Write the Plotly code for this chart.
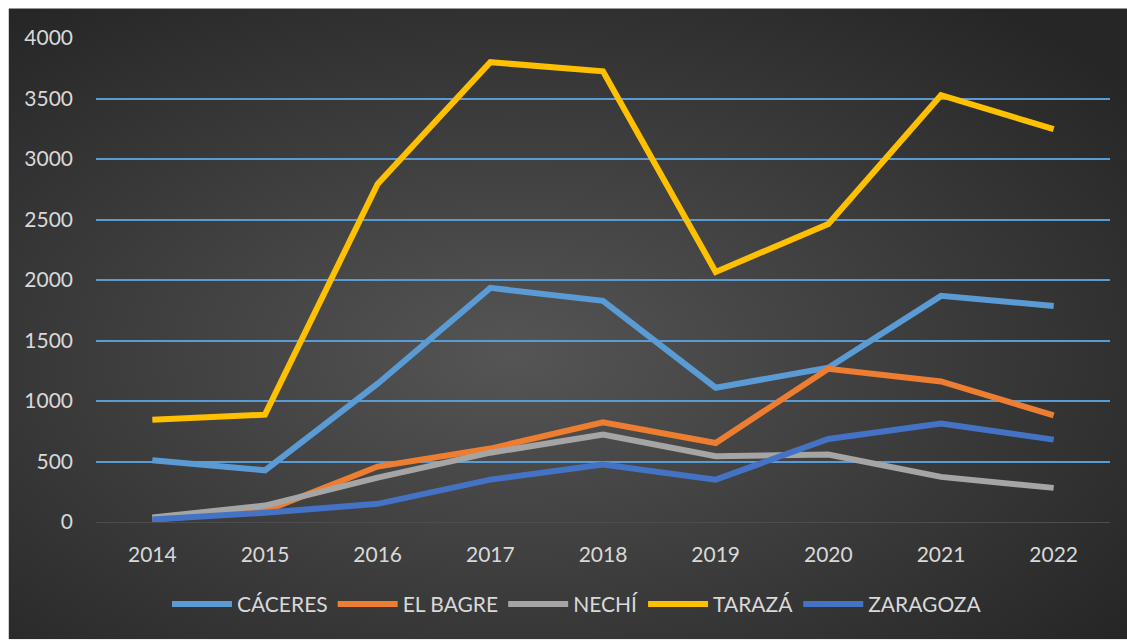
import base64
import plotly.graph_objects as go

years = ["2014", "2015", "2016", "2017", "2018", "2019", "2020", "2021", "2022"]
caceres = [510, 427, 1143, 1935, 1828, 1110, 1275, 1869, 1786]
el_bagre = [22, 90, 458, 607, 823, 653, 1266, 1162, 881]
nechi = [37, 136, 367, 573, 722, 543, 557, 373, 282]
taraza = [846, 887, 2793, 3800, 3725, 2067, 2463, 3527, 3247]
zaragoza = [21, 76, 150, 350, 474, 350, 686, 813, 681]
y_ticks = [0, 500, 1000, 1500, 2000, 2500, 3000, 3500, 4000]

series = [
    ("CÁCERES", caceres, "#5B9BD5"),
    ("EL BAGRE", el_bagre, "#ED7D31"),
    ("NECHÍ", nechi, "#A5A5A5"),
    ("TARAZÁ", taraza, "#FFC000"),
    ("ZARAGOZA", zaragoza, "#4472C4"),
]

fig = go.Figure()
for name, vals, color in series:
    fig.add_trace(go.Scatter(
        x=years, y=vals, name=name, mode="lines",
        line=dict(color=color, width=6),
    ))

svg = (
    '<svg xmlns="http://www.w3.org/2000/svg" width="1118" height="632" '
    'preserveAspectRatio="none" viewBox="0 0 1118 632">'
    '<defs><radialGradient id="g" cx="45%" cy="55%" r="70%">'
    '<stop offset="0%" stop-color="#555555"/>'
    '<stop offset="100%" stop-color="#262626"/>'
    '</radialGradient></defs>'
    '<rect width="1118" height="632" fill="url(#g)"/></svg>'
)
uri = "data:image/svg+xml;base64," + base64.b64encode(svg.encode()).decode()

L, R, T, B = 96.4, 1109.6, 37.7, 522.5
pw, ph = R - L, B - T
def px(x):
    return (x - L) / pw
def py(y):
    return (B - y) / ph

fig.add_layout_image(dict(
    source=uri, xref="paper", yref="paper",
    x=px(9), y=py(8), sizex=px(1127) - px(9), sizey=py(8) - py(640),
    xanchor="left", yanchor="top", sizing="stretch", layer="below",
))

font_fam = "Lato, 'Open Sans', sans-serif"
fig.update_layout(
    width=1127, height=640,
    margin=dict(l=L, r=1127 - R, t=T, b=640 - B),
    paper_bgcolor="white", plot_bgcolor="rgba(0,0,0,0)",
    font=dict(family=font_fam, color="#D9D9D9", size=21),
    showlegend=True,
    legend=dict(orientation="h", x=px(577), xanchor="center", y=py(605), yanchor="middle",
                font=dict(size=21, color="#D9D9D9"), bgcolor="rgba(0,0,0,0)",
                itemwidth=60, tracegroupgap=0),
    xaxis=dict(type="category", range=[-0.5, 8.5], showgrid=False, showline=True,
               linecolor="#4d4d4d", linewidth=1, ticks="", tickfont=dict(size=21, color="#D9D9D9")),
    yaxis=dict(range=[0, 4000], tickvals=y_ticks, showgrid=True, gridcolor="#5B9BD5",
               gridwidth=1.5, zeroline=False, ticks="", tickfont=dict(size=21, color="#D9D9D9"),
               showline=False),
)
fig.update_xaxes(ticklabelstandoff=14)
fig.update_yaxes(ticklabelstandoff=22)

fig.write_html("out.html")
